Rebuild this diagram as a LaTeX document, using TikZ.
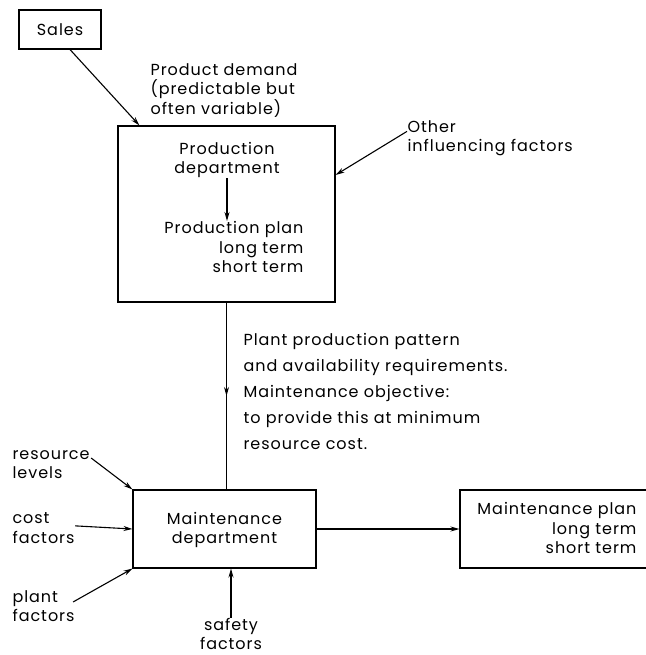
\documentclass[tikz,border=0pt]{standalone}
\usepackage{fontspec}
\setmainfont{Poppins}[LetterSpace=6]
\usetikzlibrary{positioning, arrows.meta, decorations.markings}

\begin{document}
\begin{tikzpicture}[x=1pt, y=-1pt, ->, >={Stealth[length=9pt,width=5pt]}, line width=1.1pt,
    every node/.style={font=\fontsize{16}{19.5}\selectfont},
    box/.style={draw, rectangle, inner sep=0pt},
    txt/.style={align=left, inner sep=0pt},
    midarrow/.style={-, postaction={decorate}, decoration={markings, mark=at position 0.5 with {\arrow{>}}}}]
    \useasboundingbox (0,0) rectangle (645,655);

    \node[box, minimum width=82pt, minimum height=39pt]   (sales)  at (60,29.5)  {Sales};
    \node[box, minimum width=217pt, minimum height=176pt] (prod)   at (226.5,214) {};
    \node[box, minimum width=183pt, minimum height=78pt]  (maint)  at (224.5,529) {};
    \node[box, minimum width=200pt, minimum height=78pt]  (mplan)  at (560,529)  {};

    \node[txt, align=center]            (pdept)  at (227,160)   {Production\\department};
    \node[txt, align=right, anchor=north east] (pplan) at (304,221) {Production plan\\long term\\short term};
    \node[txt, align=center]            (mdept)  at (224.5,530) {Maintenance\\department};
    \node[txt, align=right, anchor=east] (mplantxt) at (637,528) {Maintenance plan\\long term\\short term};

    \node[txt, anchor=north west]       (demand) at (150,63)  {Product demand\\(predictable but\\often variable)};
    \node[txt, anchor=north west]       (other)  at (407,120) {Other\\ influencing factors};
    \node[txt, anchor=north west]       (objective) at (243,333)
        {Plant production pattern\\[6.5pt]and availability requirements.\\[6.5pt]Maintenance objective:\\[6.5pt]to provide this at minimum\\[6.5pt]resource cost.};
    \node[txt, anchor=north west]       (reslev) at (12,450)  {resource\\levels};
    \node[txt, anchor=north west]       (cost)   at (12,512)  {cost\\factors};
    \node[txt, anchor=north west]       (plantf) at (12,590)  {plant\\factors};
    \node[txt, align=center]            (safety) at (231,634) {safety\\factors};

    \path ([xshift=10pt]sales.south)  edge ([xshift=22pt]prod.north west)
          ([yshift=7pt]other.west)    edge ([yshift=39pt]prod.east)
          (pdept)                     edge (pplan.north -| pdept)
          (maint)                     edge (mplan)
          ([xshift=1pt,yshift=-8pt]reslev.north east) edge (maint.north west)
          ([yshift=2pt]cost.east)     edge (maint.west)
          ([xshift=-2pt,yshift=-12pt]plantf.north east) edge (maint.south west)
          (safety.north)              edge ([xshift=6.5pt]maint.south);
    \draw[midarrow] (prod.south) -- (prod.south |- maint.north);
\end{tikzpicture}
\end{document}
